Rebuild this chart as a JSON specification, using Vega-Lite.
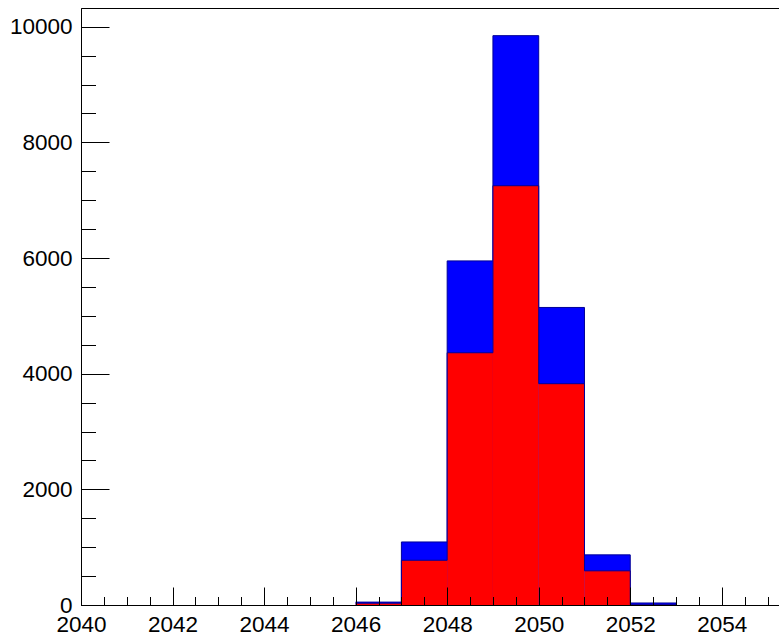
{
  "$schema": "https://vega.github.io/schema/vega-lite/v6.json",
  "width": 698,
  "height": 597,
  "autosize": {"type": "none"},
  "padding": {"left": 81, "top": 8, "right": 0, "bottom": 28},
  "background": "white",
  "config": {
    "view": {"stroke": "black", "strokeWidth": 1},
    "axis": {
      "labelFont": "Liberation Sans",
      "labelFontSize": 22.5,
      "labelColor": "black",
      "domainColor": "black",
      "tickColor": "black",
      "grid": false,
      "title": null,
      "labelOverlap": false,
      "labelBound": false,
      "labelFlush": false,
      "zindex": 2,
      "format": "d"
    }
  },
  "data": {
    "values": [
      {"lo": 2040, "hi": 2041, "total": 0, "red": 0},
      {"lo": 2041, "hi": 2042, "total": 0, "red": 0},
      {"lo": 2042, "hi": 2043, "total": 0, "red": 0},
      {"lo": 2043, "hi": 2044, "total": 0, "red": 0},
      {"lo": 2044, "hi": 2045, "total": 0, "red": 0},
      {"lo": 2045, "hi": 2046, "total": 0, "red": 0},
      {"lo": 2046, "hi": 2047, "total": 50, "red": 32},
      {"lo": 2047, "hi": 2048, "total": 1090, "red": 774},
      {"lo": 2048, "hi": 2049, "total": 5950, "red": 4362},
      {"lo": 2049, "hi": 2050, "total": 9845, "red": 7250},
      {"lo": 2050, "hi": 2051, "total": 5145, "red": 3827},
      {"lo": 2051, "hi": 2052, "total": 867, "red": 591},
      {"lo": 2052, "hi": 2053, "total": 35, "red": 5},
      {"lo": 2053, "hi": 2054, "total": 0, "red": 0},
      {"lo": 2054, "hi": 2055, "total": 0, "red": 0}
    ]
  },
  "resolve": {"axis": {"x": "independent", "y": "independent"}},
  "layer": [
    {
      "mark": {"type": "bar", "fill": "#0000ff", "stroke": null, "clip": true},
      "encoding": {
        "x": {"field": "lo", "type": "quantitative",
          "scale": {"domain": [2040, 2055.25], "nice": false, "zero": false},
          "axis": {"orient": "bottom", "zindex": 3, "values": [2040,2040.5,2041,2041.5,2042,2042.5,2043,2043.5,2044,2044.5,2045,2045.5,2046,2046.5,2047,2047.5,2048,2048.5,2049,2049.5,2050,2050.5,2051,2051.5,2052,2052.5,2053,2053.5,2054,2054.5,2055], "tickSize": -8.5, "labels": false, "domain": false}},
        "x2": {"field": "hi"},
        "y": {"field": "total", "type": "quantitative",
          "scale": {"domain": [0, 10323], "nice": false},
          "axis": {"orient": "left", "zindex": 3, "values": [0,500,1000,1500,2000,2500,3000,3500,4000,4500,5000,5500,6000,6500,7000,7500,8000,8500,9000,9500,10000], "tickSize": -14.5, "labels": false, "domain": false}},
        "y2": {"datum": 0}
      }
    },
    {
      "transform": [{"filter": "datum.lo >= 2046 && datum.lo <= 2053"}],
      "mark": {"type": "line", "interpolate": "step-after", "stroke": "#000099", "strokeWidth": 1, "clip": true},
      "encoding": {
        "x": {"field": "lo", "type": "quantitative", "axis": null},
        "y": {"field": "total", "type": "quantitative", "axis": null}
      }
    },
    {
      "mark": {"type": "bar", "fill": "#ff0000", "stroke": null, "clip": true},
      "encoding": {
        "x": {"field": "lo", "type": "quantitative",
          "axis": {"orient": "bottom", "zindex": 3, "values": [2040,2042,2044,2046,2048,2050,2052,2054], "tickSize": -18, "labelPadding": 26, "domain": true}},
        "x2": {"field": "hi"},
        "y": {"field": "red", "type": "quantitative",
          "axis": {"orient": "left", "zindex": 3, "values": [0,2000,4000,6000,8000,10000], "tickSize": -28, "labelPadding": 37, "domain": true}},
        "y2": {"datum": 0}
      }
    },
    {
      "transform": [{"filter": "datum.lo >= 2046 && datum.lo <= 2053"}],
      "mark": {"type": "line", "interpolate": "step-after", "stroke": "#000099", "strokeWidth": 1, "clip": true},
      "encoding": {
        "x": {"field": "lo", "type": "quantitative", "axis": null},
        "y": {"field": "red", "type": "quantitative", "axis": null}
      }
    }
  ]
}
